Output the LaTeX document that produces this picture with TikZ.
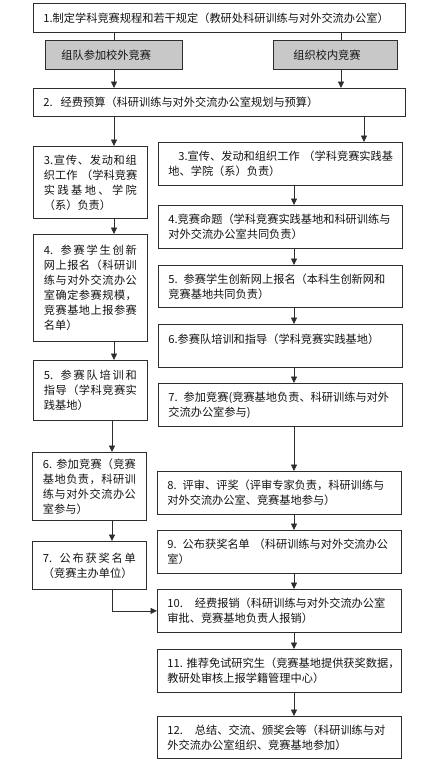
\documentclass[tikz,border=0pt]{standalone}
\usepackage{fontspec}
\setmainfont{Noto Sans CJK SC}
\usetikzlibrary{arrows.meta}
\definecolor{bc}{RGB}{45,45,45}
\definecolor{gf}{RGB}{200,200,200}
\definecolor{txt}{RGB}{20,20,20}
\newcommand\myfont{\fontsize{11.2pt}{15pt}\selectfont}
% spread a line of CJK text over the full text width
\def\sprfirst#1{#1\sprnext}
\def\sprnext#1{\ifx\sprend#1\else\hfil#1\expandafter\sprnext\fi}
\def\sprend{\sprend}
\newcommand\spr[1]{\leavevmode\hbox to 93pt{\sprfirst#1\sprend}}
\tikzset{
  base/.style={draw=bc, line width=0.8pt, anchor=north west, inner ysep=0pt,
    align=left, font=\myfont, text=txt, fill=white},
  lbox/.style={base, minimum width=114pt, text width=93pt, inner xsep=10.5pt},
  rbox/.style={base, minimum width=243.5pt, minimum height=43pt, text width=223.5pt, inner xsep=10pt},
  wbox/.style={base, minimum width=372pt, text width=352pt, inner xsep=10pt},
  gbox/.style={base, fill=gf, minimum height=29pt},
  ln/.style={draw=bc, line width=0.8pt},
  arr/.style={ln, -{Triangle[length=6.5pt,width=6pt]}},
}
\begin{document}
\begin{tikzpicture}[x=1pt,y=-1pt]
\useasboundingbox (0,0) rectangle (435,766);
\fill[white] (0,0) rectangle (435,766);
% top
\node[wbox, minimum height=29pt] (B1) at (33,3) {1.制定学科竞赛规程和若干规定（教研处科研训练与对外交流办公室）};
\node[gbox, minimum width=137pt, text width=105pt, inner xsep=16pt] (G1) at (45,40) {组队参加校外竞赛};
\node[gbox, minimum width=124pt, text width=84pt, inner xsep=20pt] (G2) at (273,40) {组织校内竞赛};
\node[wbox, minimum height=28pt] (B2) at (33,88) {2.\hspace{8pt}经费预算（科研训练与对外交流办公室规划与预算）};
% left column
\node[lbox, minimum height=72pt] (L3) at (33,146) {\spr{{3.}宣传、发动和组}\\\spr{织工作\ （学科竞赛}\\\spr{实践基地、学院}\\（系）负责）};
\node[lbox, minimum height=107pt] (L4) at (33,234) {\spr{{4.}\ 参赛学生创新}\\\spr{网上报名（科研训}\\\spr{练与对外交流办公}\\\spr{室确定参赛规模，}\\\spr{竞赛基地上报参赛}\\名单）};
\node[lbox, minimum height=60pt] (L5) at (33,360) {\spr{{5.}\ 参赛队培训和}\\\spr{指导（学科竞赛实}\\践基地）};
\node[lbox, minimum height=68pt] (L6) at (32,452) {\spr{{6.}\ 参加竞赛（竞赛}\\\spr{基地负责，科研训}\\\spr{练与对外交流办公}\\室参与）};
\node[lbox, minimum height=48pt] (L7) at (32,541) {\spr{{7.}\ 公布获奖名单}\\（竞赛主办单位）};
% right column
\node[rbox] (R3) at (158,142) {\hspace*{10pt}3.宣传、发动和组织工作~（学科竞赛实践基\\地、学院（系）负责）};
\node[rbox] (R4) at (158,205) {4.竞赛命题（学科竞赛实践基地和科研训练与\\对外交流办公室共同负责）};
\node[rbox, minimum height=42pt] (R5) at (158,265) {5.\hspace{6pt}参赛学生创新网上报名（本科生创新网和\\竞赛基地共同负责）};
\node[rbox] (R6) at (158,324) {6.参赛队培训和指导（学科竞赛实践基地）\\\mbox{}};
\node[rbox] (R7) at (158,383) {7.\hspace{6pt}参加竞赛(竞赛基地负责、科研训练与对外\\交流办公室参与)};
\node[rbox] (R8) at (157,471) {8.\hspace{6pt}评审、评奖（评审专家负责，科研训练与\\对外交流办公室、竞赛基地参与）};
\node[rbox] (R9) at (157,530) {9.\hspace{6pt}公布获奖名单~（科研训练与对外交流办公\\室）};
\node[rbox] (R10) at (157,589) {10.\hspace{12pt}经费报销（科研训练与对外交流办公室\\审批、竞赛基地负责人报销）};
\node[rbox] (R11) at (157,649) {11.~推荐免试研究生（竞赛基地提供获奖数据，\\教研处审核上报学籍管理中心）};
\node[rbox, minimum height=42pt] (R12) at (157,716) {12.\hspace{12pt}总结、交流、颁奖会等（科研训练与对\\外交流办公室组织、竞赛基地参加）};
% guide coordinates for connector x positions
\coordinate (xa) at (114,0);
\coordinate (xb) at (341,0);
\coordinate (xc) at (364,0);
\coordinate (xL) at (112,0);
\coordinate (xR) at (294,0);
% connectors
\draw[ln] (B1.south -| xa) -- (G1.north -| xa);
\draw[ln] (B1.south -| xb) -- (G2.north -| xb);
\draw[arr] (G1.south -| xa) -- (B2.north -| xa);
\draw[arr] (G2.south -| xb) -- (B2.north -| xb);
\draw[arr] (B2.south -| xa) -- (L3.north -| xa);
\draw[arr] (B2.south -| xc) -- (R3.north -| xc);
\draw[arr] (L3.south -| xa) -- (L4.north -| xa);
\draw[arr] (L4.south -| xa) -- (L5.north -| xa);
\draw[arr] (L5.south -| xL) -- (L6.north -| xL);
\draw[arr] (L6.south -| xL) -- (L7.north -| xL);
\draw[arr] (L7.south -| xL) |- (R10.west);
\draw[arr] (R3.south -| xR) -- (R4.north -| xR);
\draw[arr] (R4.south -| xR) -- (R5.north -| xR);
\draw[arr] (R5.south -| xR) -- (R6.north -| xR);
\draw[arr] (R6.south -| xR) -- (R7.north -| xR);
\draw[arr] (R7.south -| xR) -- (R8.north -| xR);
\draw[arr] (R8.south -| xR) -- (R9.north -| xR);
\draw[arr] (R9.south -| xR) -- (R10.north -| xR);
\draw[arr] (R10.south -| xR) -- (R11.north -| xR);
\draw[arr] (R11.south -| xR) -- (R12.north -| xR);
\end{tikzpicture}
\end{document}
